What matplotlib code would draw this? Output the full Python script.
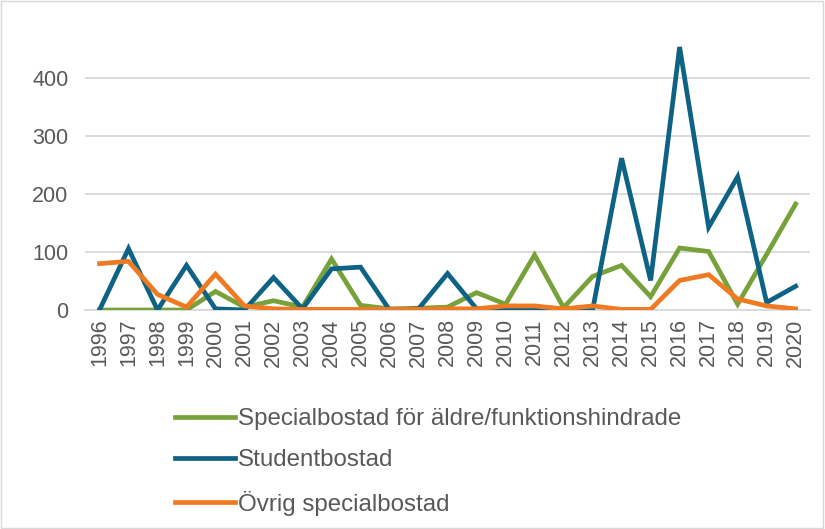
import matplotlib
matplotlib.use("Agg")
import matplotlib.pyplot as plt
from matplotlib.patches import Rectangle

years = [str(y) for y in range(1996, 2021)]
special_aldre = [0, 0, 0, 0, 32, 5, 16, 5, 88, 8, 2, 3, 5, 30, 10, 95, 4, 58, 77, 23, 107, 101, 10, 96, 183]
student = [0, 106, 0, 77, 2, 0, 56, 2, 71, 74, 0, 2, 63, 2, 0, 0, 0, 0, 262, 51, 454, 143, 230, 13, 41]
ovrig = [80, 84, 27, 5, 62, 7, 2, 1, 1, 1, 1, 1, 2, 2, 7, 7, 2, 7, 1, 1, 51, 61, 19, 7, 2]

series_names = ["Specialbostad för äldre/funktionshindrade", "Studentbostad", "Övrig specialbostad"]
colors = ["#77A23A", "#0E6385", "#F07A22"]

plt.rcParams["font.family"] = ["Liberation Sans", "DejaVu Sans"]

fig = plt.figure(figsize=(8.25, 5.29), dpi=100)
ax = fig.add_axes([0.103, 0.414, 0.879, 0.553])

x = list(range(len(years)))
for vals, name, c in zip([special_aldre, student, ovrig], series_names, colors):
    ax.plot(x, vals, color=c, lw=3.4, label=name, solid_joinstyle="miter", zorder=3)

ax.set_xlim(-0.5, len(years) - 0.5)
ax.set_ylim(0, 505)
ax.set_yticks([0, 100, 200, 300, 400])
ax.set_xticks(x)
ax.set_xticklabels(years, rotation=90)
ax.grid(axis="y", color="#D9D9D9", lw=1.3, zorder=0)
for s in ["top", "right", "left"]:
    ax.spines[s].set_visible(False)
ax.spines["bottom"].set_color("#D9D9D9")
ax.spines["bottom"].set_linewidth(1.3)
ax.tick_params(axis="both", length=0, colors="#595959", labelsize=15.5)
ax.tick_params(axis="y", pad=12)
ax.tick_params(axis="x", pad=6)

fig.legend(loc="upper left", bbox_to_anchor=(0.2, 0.247), frameon=False,
           fontsize=17.4, labelcolor="#595959", handlelength=2.5, handletextpad=0.12,
           labelspacing=0.8, borderaxespad=0)

fig.patches.append(Rectangle((0.001, 0.001), 0.997, 0.997, transform=fig.transFigure,
                             fill=False, edgecolor="#D9D9D9", lw=1))

fig.savefig("out.png", dpi=100)
